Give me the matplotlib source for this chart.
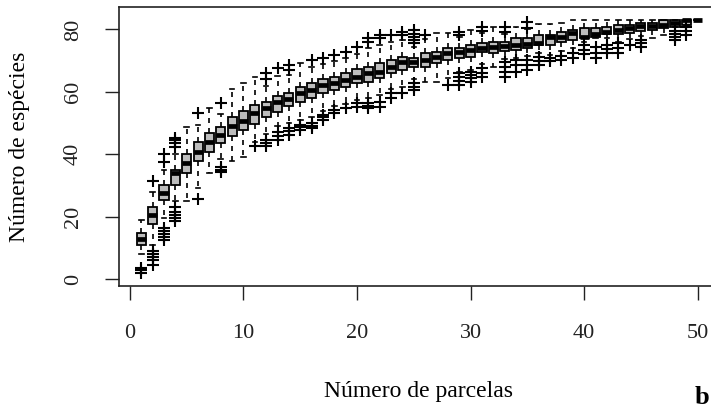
import matplotlib
matplotlib.use("Agg")
import matplotlib.pyplot as plt

# number of plots (x) and box statistics per box
plots = list(range(1, 51))

q1 = [10.9, 17.6, 25.3, 30.1, 34.0, 37.8, 40.7, 43.6, 45.8, 47.8,
      49.7, 51.9, 53.5, 55.5, 56.7, 57.9, 59.7, 60.6, 61.7, 62.7,
      63.3, 64.4, 66.0, 67.0, 68.1, 68.1, 69.2, 70.2, 70.8, 71.3,
      72.9, 72.4, 73.1, 73.4, 74.0, 75.0, 75.0, 76.1, 76.6, 77.2,
      77.7, 78.4, 78.4, 78.8, 79.5, 79.8, 80.4, 80.8, 81.5, 83.0]
median = [12.7, 20.5, 27.7, 34.0, 37.3, 40.8, 44.0, 46.2, 49.0, 50.8,
          53.2, 54.8, 56.8, 57.6, 59.5, 60.6, 62.2, 62.7, 63.8, 64.9,
          66.0, 66.5, 68.1, 69.7, 69.7, 70.2, 71.3, 72.4, 72.9, 73.4,
          74.2, 74.5, 74.8, 75.0, 75.2, 75.5, 77.5, 77.5, 78.8, 77.7,
          78.5, 79.3, 79.8, 80.5, 81.0, 81.0, 81.5, 82.0, 83.0, 83.0]
q3 = [14.7, 23.1, 30.1, 35.0, 40.1, 43.9, 46.8, 48.7, 51.9, 53.9,
      55.8, 56.7, 58.7, 59.6, 61.7, 62.9, 64.1, 64.7, 66.0, 67.2,
      68.1, 69.2, 70.2, 71.3, 70.8, 72.4, 72.9, 74.0, 74.0, 75.0,
      75.6, 76.1, 76.1, 77.2, 77.2, 78.2, 78.2, 79.3, 79.8, 80.4,
      80.4, 80.9, 81.4, 81.4, 82.0, 82.0, 83.0, 83.0, 83.0, 83.0]
whisker_low = [8.0, 11.0, 19.5, 25.0, 25.0, 29.2, 34.0, 38.5, 37.8, 39.1,
               44.0, 46.5, 49.0, 50.0, 51.0, 52.0, 54.0, 55.5, 56.0, 57.5,
               58.0, 59.0, 61.0, 61.5, 64.0, 63.3, 63.3, 64.5, 66.5, 67.0,
               69.0, 68.0, 70.5, 71.0, 71.5, 72.5, 71.8, 73.0, 74.0, 76.0,
               77.2, 77.2, 76.1, 77.0, 78.0, 77.2, 78.2, 80.8, 81.5, 83.0]
whisker_high = [19.0, 28.0, 35.0, 40.0, 48.7, 49.5, 54.8, 53.0, 60.9, 62.8,
                64.7, 62.0, 65.0, 65.5, 69.2, 68.0, 69.0, 70.0, 71.0, 72.0,
                74.0, 75.0, 76.0, 76.5, 74.5, 77.0, 78.8, 78.8, 77.5, 79.8,
                79.0, 80.9, 78.5, 80.9, 80.0, 81.7, 81.7, 82.0, 83.0, 83.0,
                83.0, 83.0, 83.0, 83.0, 83.0, 83.0, 83.0, 83.0, 83.0, 83.0]
outliers = [
    [2.0, 3.0, 3.5],
    [4.5, 6.0, 7.0, 8.0, 9.0, 31.5],
    [12.5, 13.5, 14.5, 15.5, 16.5, 37.5, 40.0],
    [18.5, 19.5, 20.5, 21.5, 23.0, 42.3, 43.5, 44.5, 45.2],
    [],
    [25.6, 53.2],
    [],
    [34.3, 35.0, 36.0, 56.4],
    [],
    [],
    [42.5],
    [42.5, 43.5, 44.6, 64.0, 66.0],
    [44.6, 45.8, 47.1, 67.6],
    [46.2, 47.3, 48.4, 67.0, 68.6],
    [47.8, 48.6, 49.4],
    [48.4, 49.2, 50.0, 70.2],
    [51.0, 51.8, 52.6, 70.8],
    [53.2, 54.2, 71.8],
    [54.8, 72.9],
    [55.1, 56.4, 74.5],
    [54.8, 55.6, 56.4, 76.0, 77.2],
    [55.2, 56.8, 77.2, 78.2],
    [58.0, 59.6, 78.2],
    [59.5, 78.2, 79.3],
    [60.6, 61.5, 62.8, 75.5, 76.5, 77.5, 78.5, 79.8],
    [78.2],
    [],
    [62.2],
    [62.2, 63.5, 64.8, 66.0, 78.2, 79.3],
    [63.3, 64.5, 65.5, 66.5],
    [64.8, 66.0, 67.6, 79.5, 80.9],
    [],
    [64.9, 66.5, 68.0, 69.7, 79.3, 80.9],
    [66.5, 68.5, 70.2],
    [67.0, 68.5, 70.2, 80.4, 82.5],
    [68.6, 70.0, 71.3],
    [70.0, 70.8],
    [70.2, 71.5],
    [71.0, 72.5],
    [72.0, 73.5, 75.0],
    [70.8, 72.6, 74.5],
    [72.4, 73.7, 75.0],
    [72.4, 74.0, 75.6],
    [75.0],
    [74.5, 75.5, 76.6],
    [],
    [],
    [76.6, 77.6, 78.6, 79.6],
    [78.2, 79.5, 80.9],
    [],
]

x_ticks = [0, 10, 20, 30, 40, 50]
y_ticks = [0, 20, 40, 60, 80]

plt.rcParams["font.family"] = ["Liberation Serif", "DejaVu Serif"]

fig = plt.figure(figsize=(7.11, 4.11), dpi=100)
ax = fig.add_axes([119 / 711, 0.303, 601 / 711, 0.680])

stats = []
for i in range(len(plots)):
    stats.append({
        "med": median[i], "q1": q1[i], "q3": q3[i],
        "whislo": whisker_low[i], "whishi": whisker_high[i],
        "fliers": outliers[i], "label": "",
    })

ax.bxp(
    stats,
    positions=plots,
    widths=0.8,
    capwidths=0.4,
    patch_artist=True,
    manage_ticks=False,
    boxprops=dict(facecolor="#bdbdbd", edgecolor="black", linewidth=1.3),
    medianprops=dict(color="black", linewidth=3.4, solid_capstyle="butt"),
    whiskerprops=dict(color="black", linewidth=1.2, linestyle=(0, (3, 3))),
    capprops=dict(color="black", linewidth=1.2),
    flierprops=dict(marker="+", markeredgecolor="black", markersize=8, markeredgewidth=1.5),
)

ax.set_xlim(-0.96, 51.96)
ax.set_ylim(-2.4, 87.2)
ax.set_xticks(x_ticks)
ax.set_yticks(y_ticks)
ax.set_yticklabels([str(v) for v in y_ticks], rotation=90, va="center")
ax.tick_params(direction="out", length=10, width=1, labelsize=16, colors="#222222")
ax.tick_params(axis="x", pad=17)
ax.tick_params(axis="y", pad=16)
for spine in ax.spines.values():
    spine.set_linewidth(1.2)
    spine.set_color("#222222")

fig.text(20 / 711, 1 - 147 / 411, "Número de espécies", rotation=90,
         ha="center", va="center", fontsize=17)
fig.text(419 / 711, 1 - 391 / 411, "Número de parcelas",
         ha="center", va="center", fontsize=17)
fig.text(702 / 711, 1 - 397 / 411, "b", ha="center", va="center",
         fontsize=19, fontweight="bold")

fig.savefig("out.png", dpi=100)
